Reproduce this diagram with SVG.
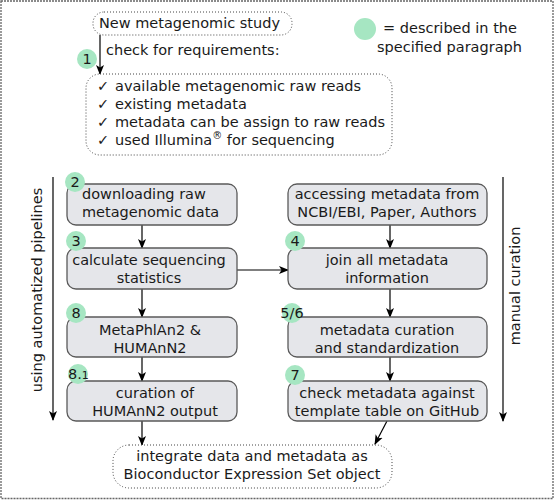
<svg xmlns="http://www.w3.org/2000/svg" width="555" height="500" viewBox="0 0 555 500">
<defs>
<marker id="ah" markerWidth="10" markerHeight="10" refX="9" refY="5" orient="auto" markerUnits="userSpaceOnUse">
<path d="M0,1 L10,5 L0,9 L2.5,5 Z" fill="#000"/>
</marker>
<style>
text{font-family:"DejaVu Sans","Verdana",sans-serif;font-size:14.5px;fill:#1a1a1a}
.c{text-anchor:middle}
.box{fill:#e5e6ea;stroke:#5a5a5a;stroke-width:1.3}
.dot{fill:#fff;stroke:#444;stroke-width:1;stroke-dasharray:1 2}
.num{fill:#a6e6c2}
.ln{stroke:#000;stroke-width:1.2;fill:none}
.arr{stroke:#000;stroke-width:1.2;fill:none;marker-end:url(#ah)}
</style>
</defs>
<rect x="1" y="1" width="552" height="497.5" fill="#fff" stroke="#666" stroke-width="1.3" stroke-dasharray="2 1"/>

<g id="legend">
<circle class="num" cx="365" cy="29" r="11"/>
<text x="383" y="33">= described in the</text>
<text x="377" y="52">specified paragraph</text>
</g>

<g id="connectors">
<line class="arr" x1="100" y1="35" x2="100" y2="74"/>
<line class="arr" x1="142" y1="225" x2="142" y2="248"/>
<line class="arr" x1="142" y1="289" x2="142" y2="317"/>
<line class="arr" x1="142" y1="357" x2="142" y2="381"/>
<line class="arr" x1="142" y1="421" x2="142" y2="445"/>
<line class="arr" x1="390" y1="225" x2="390" y2="248"/>
<line class="arr" x1="390" y1="289" x2="390" y2="317"/>
<line class="arr" x1="390" y1="357" x2="390" y2="381"/>
<line class="arr" x1="387" y1="421" x2="375" y2="444"/>
<line class="arr" x1="237" y1="270" x2="288" y2="270"/>
<line class="arr" x1="53" y1="177" x2="53" y2="420"/>
<line class="arr" x1="503" y1="177" x2="503" y2="421"/>
</g>

<g id="start">
<rect class="dot" x="93" y="12" width="199" height="23" rx="11"/>
<text x="99" y="28">New metagenomic study</text>
<text x="106" y="55">check for requirements:</text>
</g>

<g id="n1">
<circle class="num" cx="87" cy="59" r="10"/>
<text class="c" x="87" y="64">1</text>
</g>

<g id="requirements">
<rect class="dot" x="86" y="74" width="306" height="81" rx="14"/>
<text x="97" y="91">✓<tspan x="115">available metagenomic raw reads</tspan></text>
<text x="97" y="109">✓<tspan x="115">existing metadata</tspan></text>
<text x="97" y="127">✓<tspan x="115">metadata can be assign to raw reads</tspan></text>
<text x="97" y="145">✓<tspan x="115">used Illumina</tspan><tspan dy="-6" font-size="10">®</tspan><tspan dy="6"> for sequencing</tspan></text>
</g>

<g id="download">
<rect class="box" x="67" y="184" width="170" height="41" rx="9"/>
<text x="82" y="199">downloading raw</text>
<text x="82" y="217">metagenomic data</text>
<circle class="num" cx="75" cy="182" r="10"/>
<text class="c" x="75" y="187">2</text>
</g>

<g id="stats">
<rect class="box" x="67" y="248" width="170" height="41" rx="9"/>
<text class="c" x="149" y="265">calculate sequencing</text>
<text class="c" x="149" y="283">statistics</text>
<circle class="num" cx="76" cy="241" r="10"/>
<text class="c" x="76" y="246">3</text>
</g>

<g id="metaphlan">
<rect class="box" x="67" y="317" width="170" height="40" rx="9"/>
<text class="c" x="150" y="335">MetaPhlAn2 &amp;</text>
<text class="c" x="150" y="353">HUMAnN2</text>
<circle class="num" cx="76" cy="313" r="10"/>
<text class="c" x="76" y="318">8</text>
</g>

<g id="humann">
<rect class="box" x="67" y="381" width="170" height="40" rx="9"/>
<text class="c" x="155" y="398">curation of</text>
<text class="c" x="155" y="416">HUMAnN2 output</text>
<circle class="num" cx="78" cy="374" r="10"/>
<text x="68" y="379">8.<tspan font-size="11">1</tspan></text>
</g>

<g id="access">
<rect class="box" x="288" y="184" width="199" height="41" rx="9"/>
<text class="c" x="387" y="199">accessing metadata from</text>
<text class="c" x="387" y="217">NCBI/EBI, Paper, Authors</text>
</g>

<g id="join">
<rect class="box" x="288" y="248" width="199" height="41" rx="9"/>
<text class="c" x="387" y="265">join all metadata</text>
<text class="c" x="387" y="283">information</text>
<circle class="num" cx="295" cy="241" r="10"/>
<text class="c" x="295" y="246">4</text>
</g>

<g id="curation">
<rect class="box" x="288" y="317" width="199" height="40" rx="9"/>
<text class="c" x="387" y="335">metadata curation</text>
<text class="c" x="387" y="353">and standardization</text>
<circle class="num" cx="292" cy="313" r="10"/>
<text class="c" x="292" y="318">5/6</text>
</g>

<g id="check">
<rect class="box" x="288" y="381" width="199" height="40" rx="9"/>
<text class="c" x="387" y="398">check metadata against</text>
<text class="c" x="387" y="416">template table on GitHub</text>
<circle class="num" cx="295" cy="375" r="10"/>
<text class="c" x="295" y="380">7</text>
</g>

<g id="integrate">
<rect class="dot" x="113" y="445" width="279" height="43" rx="16"/>
<text class="c" x="252" y="461">integrate data and metadata as</text>
<text class="c" x="252" y="479">Bioconductor Expression Set object</text>
</g>

<g id="labels">
<text class="c" transform="translate(42,290) rotate(-90)">using automatized pipelines</text>
<text class="c" transform="translate(520,286) rotate(-90)">manual curation</text>
</g>
</svg>
